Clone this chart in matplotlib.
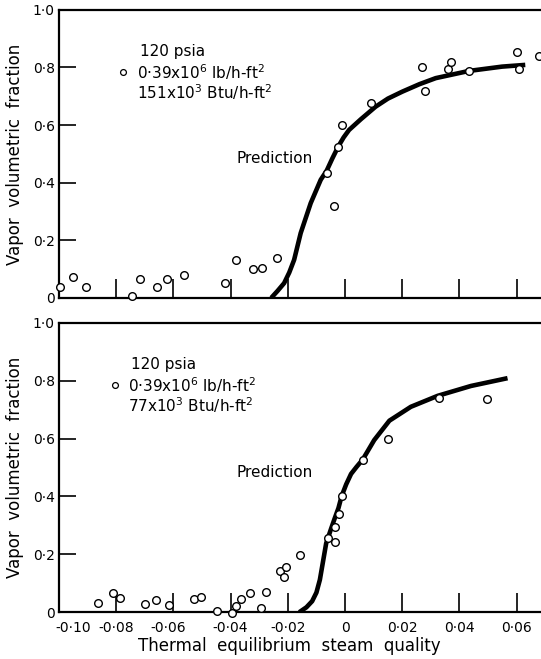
import matplotlib
matplotlib.use("Agg")
import matplotlib.pyplot as plt
from matplotlib.transforms import ScaledTranslation

# top panel: 151x10^3 Btu/h-ft2
top_x = [-0.0998, -0.0952, -0.0905, -0.0746, -0.0716, -0.0659, -0.0622, -0.0562,
         -0.0420, -0.0382, -0.0321, -0.0292, -0.0238, -0.0064, -0.0038, -0.0024,
         -0.0009, 0.0090, 0.0270, 0.0278, 0.0360, 0.0372, 0.0433, 0.0602, 0.0607, 0.0677]
top_y = [0.037, 0.072, 0.037, 0.008, 0.066, 0.039, 0.065, 0.080,
         0.053, 0.132, 0.100, 0.105, 0.138, 0.433, 0.319, 0.525,
         0.601, 0.678, 0.801, 0.719, 0.794, 0.820, 0.788, 0.853, 0.794, 0.840]
top_pred_x = [-0.0258, -0.0236, -0.0213, -0.0195, -0.0178, -0.0155, -0.0120, -0.0085,
              -0.0064, -0.0044, -0.0024, -0.0005, 0.0014, 0.0055, 0.0107, 0.0150,
              0.0200, 0.0260, 0.0317, 0.0433, 0.0549, 0.0630]
top_pred_y = [0.0, 0.024, 0.051, 0.088, 0.132, 0.225, 0.329, 0.410,
              0.442, 0.485, 0.525, 0.557, 0.583, 0.620, 0.664, 0.692,
              0.716, 0.742, 0.763, 0.788, 0.803, 0.809]

# bottom panel: 77x10^3 Btu/h-ft2
bot_x = [-0.0863, -0.0811, -0.0788, -0.0698, -0.0662, -0.0617, -0.0528, -0.0503,
         -0.0447, -0.0395, -0.0380, -0.0365, -0.0331, -0.0293, -0.0278, -0.0227,
         -0.0212, -0.0206, -0.0157, -0.0058, -0.0034, -0.0034, -0.0022, -0.0012,
         0.0062, 0.0149, 0.0327, 0.0496]
bot_y = [0.032, 0.067, 0.049, 0.030, 0.042, 0.024, 0.044, 0.053,
         0.003, -0.002, 0.021, 0.045, 0.065, 0.015, 0.070, 0.143,
         0.120, 0.155, 0.197, 0.255, 0.241, 0.293, 0.339, 0.401,
         0.526, 0.598, 0.739, 0.736]
bot_pred_x = [-0.0160, -0.0135, -0.0115, -0.0100, -0.0088, -0.0077, -0.0066, -0.0050,
              -0.0037, -0.0023, -0.0012, 0.0004, 0.0021, 0.0040, 0.0062, 0.0102,
              0.0155, 0.0230, 0.0324, 0.0440, 0.0568]
bot_pred_y = [0.0, 0.017, 0.038, 0.068, 0.112, 0.175, 0.238, 0.285,
              0.322, 0.360, 0.401, 0.442, 0.478, 0.502, 0.528, 0.595,
              0.662, 0.710, 0.748, 0.782, 0.809]

xticks = [-0.10, -0.08, -0.06, -0.04, -0.02, 0.0, 0.02, 0.04, 0.06]
xticklabels = ["-0·10", "-0·08", "-0·06", "-0·04", "-0·02", "0", "0·02", "0·04", "0·06"]
yticks = [0, 0.2, 0.4, 0.6, 0.8, 1.0]
yticklabels = ["0", "0·2", "0·4", "0·6", "0·8", "1·0"]

legend_top = ["120 psia", r"0·39x10$^6$ lb/h-ft$^2$", r"151x10$^3$ Btu/h-ft$^2$"]
legend_bot = ["120 psia", r"0·39x10$^6$ lb/h-ft$^2$", r"77x10$^3$ Btu/h-ft$^2$"]

plt.rcParams["font.family"] = ["DejaVu Sans"]
plt.rcParams["mathtext.fontset"] = "dejavusans"

fig = plt.figure(figsize=(5.41, 6.59), dpi=100)
ax1 = fig.add_axes([0.109, 0.548, 0.891, 0.437])
ax2 = fig.add_axes([0.109, 0.071, 0.891, 0.439])


def style(ax):
    ax.set_xlim(-0.10, 0.0685)
    ax.set_ylim(0, 1.0)
    ax.spines["right"].set_visible(False)
    for s in ["left", "top", "bottom"]:
        ax.spines[s].set_linewidth(1.6)
    ax.set_xticks(xticks)
    ax.set_yticks(yticks)
    ax.set_yticklabels(yticklabels, fontsize=10)
    ax.tick_params(axis="x", direction="in", length=14, width=1.2, pad=6)
    ax.tick_params(axis="y", direction="in", length=12, width=1.2, pad=3)
    ax.set_ylabel("Vapor  volumetric  fraction", fontsize=12, labelpad=6)


for ax, px, py, cx, cy, leg, lx, mx in [
        (ax1, top_x, top_y, top_pred_x, top_pred_y, legend_top, 0.162, 0.133),
        (ax2, bot_x, bot_y, bot_pred_x, bot_pred_y, legend_bot, 0.143, 0.116)]:
    style(ax)
    ax.plot(cx, cy, color="black", lw=3.3, solid_capstyle="butt",
            solid_joinstyle="round", zorder=3)
    ax.plot(px, py, "o", ms=5.5, mfc="white", mec="black", mew=1.0,
            clip_on=False, zorder=4)
    ax.text(lx + 0.006, 0.855, leg[0], transform=ax.transAxes, fontsize=11, va="center")
    ax.plot([mx], [0.784], "o", ms=4.2, mfc="white", mec="black", mew=0.9,
            transform=ax.transAxes)
    ax.text(lx, 0.784, leg[1], transform=ax.transAxes, fontsize=11, va="center")
    ax.text(lx, 0.716, leg[2], transform=ax.transAxes, fontsize=11, va="center")
    ax.text(0.369, 0.484, "Prediction", transform=ax.transAxes, fontsize=11, va="center")

ax1.set_xticklabels([])
ax2.set_xticklabels(xticklabels, fontsize=10)
ax2.set_xlabel("Thermal  equilibrium  steam  quality", fontsize=12, labelpad=5)
ax2.xaxis.set_label_coords(0.477, -0.085)

# nudge the crowded left labels as in the original print
shifts = {0: 14, 2: -5}
for i, lbl in enumerate(ax2.get_xticklabels()):
    if i in shifts:
        lbl.set_transform(lbl.get_transform() +
                          ScaledTranslation(shifts[i] / 100, 0, fig.dpi_scale_trans))

fig.savefig("out.png", dpi=100)
